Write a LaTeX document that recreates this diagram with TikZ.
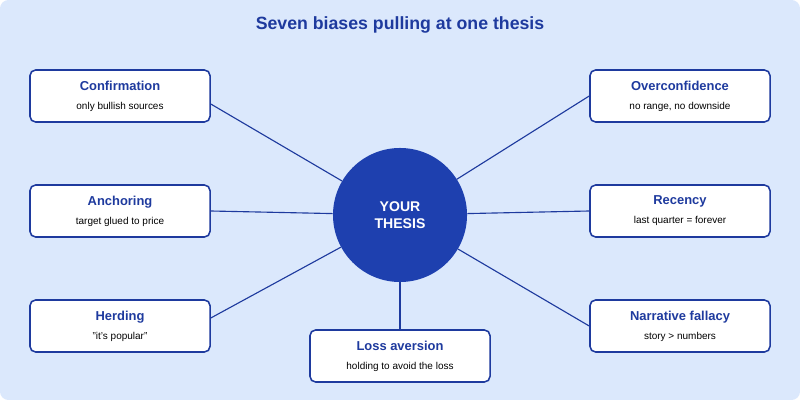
\documentclass[tikz,border=0pt]{standalone}
\usepackage{fontspec}
\setmainfont{Liberation Sans}
\usetikzlibrary{positioning}
\definecolor{bgblue}{HTML}{DBE8FC}
\definecolor{navy}{HTML}{1E3A9E}
\definecolor{disc}{HTML}{1E40AF}
\tikzset{
	biasstyle/.style={rectangle,rounded corners=4pt,draw=navy,line width=1.1pt,fill=white,minimum width=4.5cm,minimum height=1.3cm,align=center,text=black},
	thesisstyle/.style={circle,fill=disc,minimum size=3.35cm,text=white,align=center,font=\fontsize{10}{12}\selectfont\bfseries},
	linkstyle/.style={draw=navy,line width=0.8pt}
}
\newcommand{\bias}[2]{{\color{navy}\fontsize{9.2}{11}\selectfont\bfseries #1}\\[1.5pt]{\fontsize{7.1}{9}\selectfont #2}}
\begin{document}
\begin{tikzpicture}[x=0.025cm,y=-0.025cm]
		\useasboundingbox (0,0) rectangle (800,400);
		\fill[bgblue,rounded corners=6pt] (0,0) rectangle (800,400);
		\node[text=navy,font=\fontsize{12.6}{15}\selectfont\bfseries] (title) at (400,25) {Seven biases pulling at one thesis};
		\node[thesisstyle] (thesis) at (400,215) {YOUR\\THESIS};
		\node[biasstyle] (conf) at (120,96) {\bias{Confirmation}{only bullish sources}};
		\node[biasstyle] (anch) at (120,211) {\bias{Anchoring}{target glued to price}};
		\node[biasstyle] (herd) at (120,326) {\bias{Herding}{"it's popular"}};
		\node[biasstyle] (over) at (680,96) {\bias{Overconfidence}{no range, no downside}};
		\node[biasstyle] (rec) at (680,211) {\bias{Recency}{last quarter = forever}};
		\node[biasstyle] (narr) at (680,326) {\bias{Narrative fallacy}{story > numbers}};
		\node[biasstyle] (loss) at (400,356) {\bias{Loss aversion}{holding to avoid the loss}};
		\draw[linkstyle] ([yshift=-0.2cm]conf.east)--(thesis);
		\draw[linkstyle] (anch.east)--(thesis);
		\draw[linkstyle] ([yshift=0.2cm]herd.east)--(thesis);
		\draw[linkstyle] (over.west)--(thesis);
		\draw[linkstyle] (rec.west)--(thesis);
		\draw[linkstyle] (narr.west)--(thesis);
		\draw[linkstyle] (loss.north)--(thesis);
\end{tikzpicture}
\end{document}
